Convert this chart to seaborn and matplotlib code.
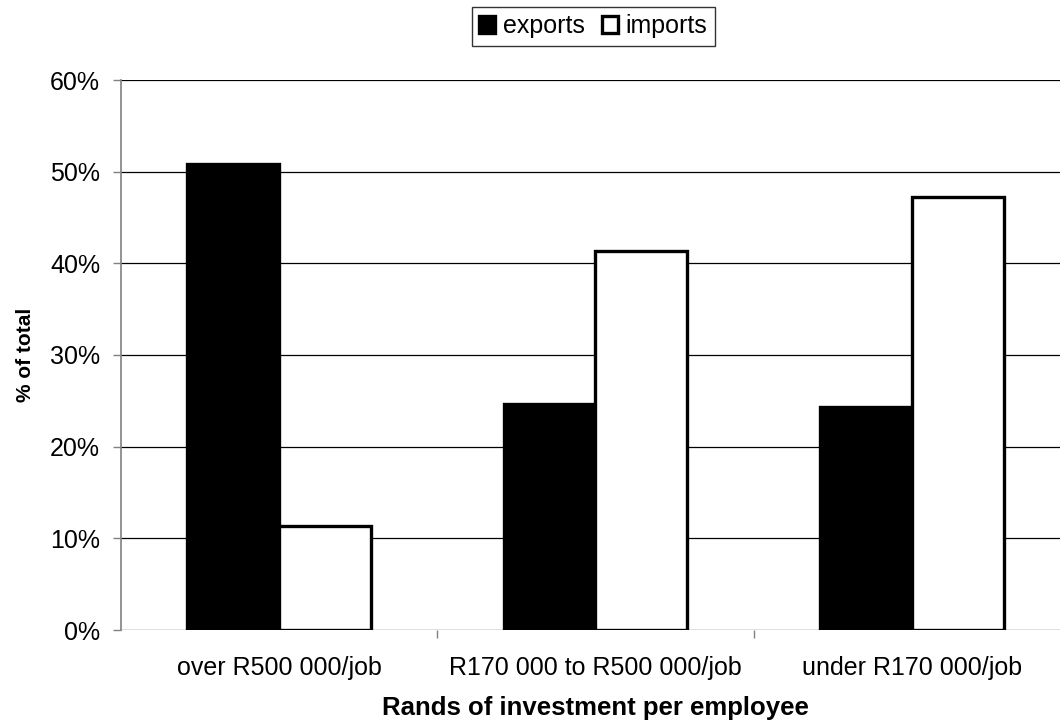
import matplotlib
matplotlib.use("Agg")
import matplotlib.pyplot as plt
import seaborn as sns
import pandas as pd
from matplotlib.ticker import MultipleLocator, FuncFormatter, FixedLocator

categories = ["over R500 000/job", "R170 000 to R500 000/job", "under R170 000/job"]
exports = [50.8, 24.7, 24.3]
imports = [11.3, 41.4, 47.2]
series = ["exports", "imports"]

df = pd.DataFrame({
    "category": categories * 2,
    "series": [series[0]] * len(categories) + [series[1]] * len(categories),
    "value": exports + imports,
})

sns.set_style("white")
plt.rcParams["font.family"] = ["Liberation Sans", "DejaVu Sans"]
plt.rcParams.update({"text.color": "black", "axes.labelcolor": "black",
                     "xtick.color": "black", "ytick.color": "black"})

fig = plt.figure(figsize=(10.6, 7.25), dpi=100)
ax = fig.add_axes([121 / 1060, 1 - 630 / 725, (1070 - 121) / 1060, (630 - 80) / 725])

sns.barplot(data=df, x="category", y="value", hue="series", order=categories,
            hue_order=series, palette=["black", "white"], width=0.58,
            edgecolor="black", linewidth=2.4, ax=ax, zorder=3)

ax.set_ylim(0, 60)
ax.set_xlim(-0.5, 2.5)
ax.yaxis.set_major_locator(MultipleLocator(10))
ax.yaxis.set_major_formatter(FuncFormatter(lambda v, p: f"{v:.0f}%"))
ax.grid(axis="y", color="black", linewidth=0.9, zorder=0)
ax.set_axisbelow(True)

for side in ["top", "right", "bottom"]:
    ax.spines[side].set_visible(False)
ax.spines["left"].set_color("#808080")
ax.spines["left"].set_linewidth(1.2)

ax.tick_params(axis="y", which="major", left=True, length=6, width=1, color="#808080",
               labelcolor="black", labelsize=18, pad=9)
ax.xaxis.set_minor_locator(FixedLocator([0.5, 1.5]))
ax.tick_params(axis="x", which="major", bottom=False, length=0, labelsize=18, pad=19)
ax.tick_params(axis="x", which="minor", bottom=True, length=6, width=1, color="#808080")

ax.set_xlabel("Rands of investment per employee", fontsize=18.5, fontweight="bold", labelpad=11)
ax.set_ylabel("% of total", fontsize=15, fontweight="bold", labelpad=11)

handles, labels = ax.get_legend_handles_labels()
ax.legend_.remove()
leg = fig.legend(handles, labels, loc="center", bbox_to_anchor=(593.5 / 1060, 1 - 26.5 / 725),
                 ncol=2, frameon=True, fancybox=False, edgecolor="black", fontsize=18,
                 handlelength=0.64, handleheight=0.64, handletextpad=0.3, columnspacing=0.7,
                 borderpad=0.3, borderaxespad=0)
leg.get_frame().set_linewidth(1.0)

fig.savefig("out.png", dpi=100)
